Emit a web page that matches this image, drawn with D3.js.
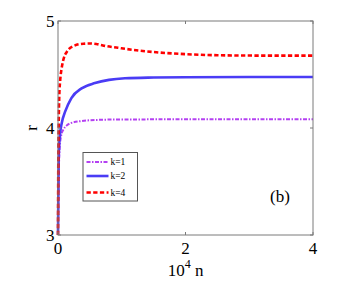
<!DOCTYPE html>
<html lang="en">
<head>
  <meta charset="UTF-8">
  <title>r vs n</title>
  <script src="https://cdn.jsdelivr.net/npm/d3@7"></script>
  <style>
    body { margin: 0; background: #fff; }
    text { font-family: "Liberation Serif", "Times New Roman", serif; }
  </style>
</head>
<body>
  <svg id="chart"></svg>
  <script>
    // data (x in units of 10^4 n)
    var xK1 = [0, 0.01, 0.025, 0.05, 0.08, 0.13, 0.2, 0.37, 0.58, 1.0, 2.0, 3.0, 4.0];
    var yK1 = [3.0, 3.5, 3.8, 3.93, 3.98, 4.02, 4.045, 4.065, 4.075, 4.08, 4.081, 4.081, 4.081];

    var xK2 = [0, 0.008, 0.015, 0.03, 0.06, 0.11, 0.21, 0.37, 0.58, 0.8, 1.05, 1.5, 2.0, 3.0, 4.0];
    var yK2 = [3.0, 3.6, 3.8, 3.93, 4.05, 4.15, 4.28, 4.37, 4.42, 4.45, 4.465, 4.472, 4.475, 4.476, 4.476];

    var xK4 = [0, 0.005, 0.01, 0.02, 0.035, 0.058, 0.09, 0.136, 0.24, 0.4, 0.5, 0.6, 0.76, 0.94, 1.05, 1.5, 2.0, 2.5, 3.0, 4.0];
    var yK4 = [3.0, 3.7, 4.0, 4.3, 4.45, 4.56, 4.65, 4.71, 4.765, 4.788, 4.79, 4.785, 4.765, 4.75, 4.74, 4.71, 4.69, 4.68, 4.677, 4.676];

    var xTicks = [0, 2, 4];
    var yTicks = [3, 4, 5];
    var seriesNames = ["k=1", "k=2", "k=4"];

    var width = 346, height = 282;
    var margin = { top: 21, right: 33, bottom: 47, left: 58 };

    var svg = d3.select("#chart")
        .attr("width", width)
        .attr("height", height);

    var x = d3.scaleLinear().domain([0, 4]).range([margin.left, width - margin.right]);
    var y = d3.scaleLinear().domain([3, 5]).range([height - margin.bottom, margin.top]);

    var series = [
      { name: seriesNames[0], xs: xK1, ys: yK1, color: "#b440f2", width: 2, dash: "4,1.5,1.5,1.5" },
      { name: seriesNames[1], xs: xK2, ys: yK2, color: "#4a3cf5", width: 2.6, dash: null },
      { name: seriesNames[2], xs: xK4, ys: yK4, color: "#ff0000", width: 2.6, dash: "4.3,2.4" }
    ];

    var line = d3.line()
        .x(function(d) { return x(d[0]); })
        .y(function(d) { return y(d[1]); })
        .curve(d3.curveMonotoneX);

    // curves
    var g = svg.append("g");
    series.forEach(function(s) {
      g.append("path")
          .datum(d3.zip(s.xs, s.ys))
          .attr("d", line)
          .attr("fill", "none")
          .attr("stroke", s.color)
          .attr("stroke-width", s.width)
          .attr("stroke-dasharray", s.dash);
    });

    // frame
    var x0 = x(0), x1 = x(4), y0 = y(3), y1 = y(5);
    svg.append("rect")
        .attr("x", x0).attr("y", y1)
        .attr("width", x1 - x0).attr("height", y0 - y1)
        .attr("fill", "none")
        .attr("stroke", "#7a7a7a")
        .attr("stroke-width", 1);

    // inward ticks
    var tl = 3;
    xTicks.forEach(function(t) {
      svg.append("line").attr("x1", x(t)).attr("x2", x(t)).attr("y1", y0).attr("y2", y0 - tl).attr("stroke", "#7a7a7a");
      svg.append("line").attr("x1", x(t)).attr("x2", x(t)).attr("y1", y1).attr("y2", y1 + tl).attr("stroke", "#7a7a7a");
      svg.append("text")
          .attr("x", x(t)).attr("y", y0 + 19)
          .attr("text-anchor", "middle")
          .style("font-size", "17px")
          .text(t);
    });
    yTicks.forEach(function(t) {
      svg.append("line").attr("x1", x0).attr("x2", x0 + tl).attr("y1", y(t)).attr("y2", y(t)).attr("stroke", "#7a7a7a");
      svg.append("line").attr("x1", x1).attr("x2", x1 - tl).attr("y1", y(t)).attr("y2", y(t)).attr("stroke", "#7a7a7a");
      svg.append("text")
          .attr("x", x0 - 3.5).attr("y", y(t) + 6)
          .attr("text-anchor", "end")
          .style("font-size", "17px")
          .text(t);
    });

    // axis labels
    var xl = svg.append("text")
        .attr("x", (x0 + x1) / 2).attr("y", 276)
        .attr("text-anchor", "middle")
        .style("font-size", "17px");
    xl.append("tspan").text("10");
    xl.append("tspan").attr("dy", -8).style("font-size", "12px").text("4");
    xl.append("tspan").attr("dy", 8).text(" n");

    svg.append("text")
        .attr("transform", "translate(37," + y(4) + ") rotate(-90)")
        .attr("text-anchor", "middle")
        .style("font-size", "17px")
        .text("r");

    // panel tag
    svg.append("text")
        .attr("x", 270).attr("y", 202)
        .style("font-size", "17px")
        .text("(b)");

    // legend
    var lg = svg.append("g").attr("transform", "translate(83,152.5)");
    lg.append("rect")
        .attr("width", 54.5).attr("height", 48.5)
        .attr("fill", "#fff")
        .attr("stroke", "#555")
        .attr("stroke-width", 1);
    var rowY = [9.5, 23.5, 40];
    series.forEach(function(s, i) {
      lg.append("line")
          .attr("x1", 3.5).attr("x2", 25.5)
          .attr("y1", rowY[i]).attr("y2", rowY[i])
          .attr("stroke", s.color)
          .attr("stroke-width", s.width)
          .attr("stroke-dasharray", s.dash);
      lg.append("text")
          .attr("x", 27.5).attr("y", rowY[i] + 3.3)
          .style("font-size", "9.5px")
          .text(s.name);
    });
  </script>
</body>
</html>
